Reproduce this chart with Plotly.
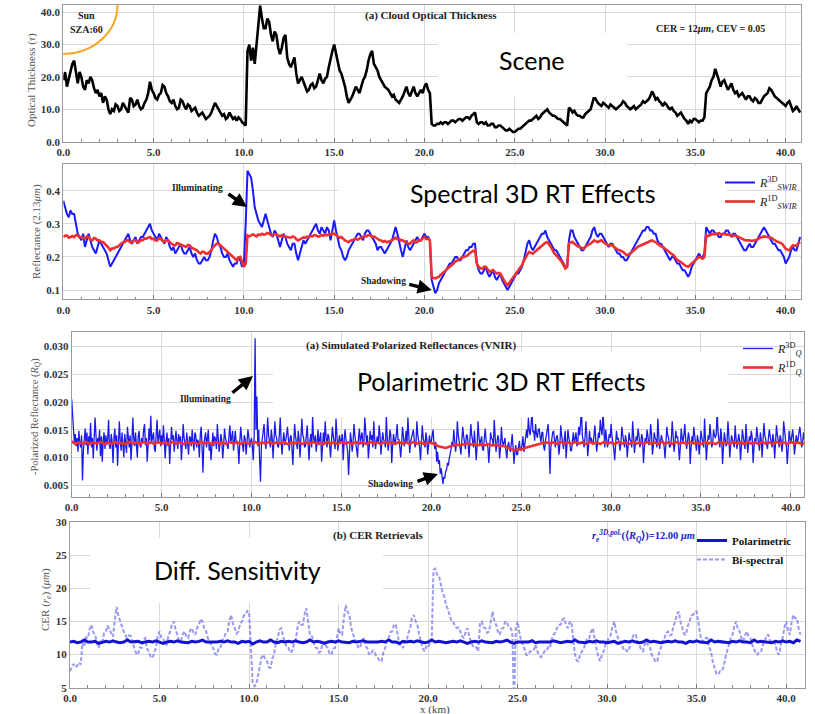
import plotly.graph_objects as go

# ---------------- data ----------------
STEP_KM = 0.1       # sampling of tau / SWIR reflectances / bi-spectral CER (km)
STEP_RQ3D_KM = 0.05 # sampling of the polarized 3D reflectance (km)
STEP_COARSE_KM = 0.2  # sampling of R_Q 1D and the polarimetric CER (km)

x_tick_vals = [0, 5, 10, 15, 20, 25, 30, 35, 40]
x_tick_text = ["0.0", "5.0", "10.0", "15.0", "20.0", "25.0", "30.0", "35.0", "40.0"]
tau_tick_vals = [0, 10, 20, 30, 40]
tau_tick_text = ["0.0", "10.0", "20.0", "30.0", "40.0"]
refl_tick_vals = [0.1, 0.2, 0.3, 0.4]
refl_tick_text = ["0.1", "0.2", "0.3", "0.4"]
rq_tick_vals = [0.005, 0.010, 0.015, 0.020, 0.025, 0.030]
rq_tick_text = ["0.005", "0.010", "0.015", "0.020", "0.025", "0.030"]
cer_tick_vals = [5, 10, 15, 20, 25, 30]
cer_tick_text = ["5", "10", "15", "20", "25", "30"]

# cloud optical thickness, every 0.1 km (one row per km)
tau = [
    19, 21.5, 17, 19.5, 21, 24, 25, 21, 18, 21.5,
    20, 17, 16, 19, 18, 20, 19, 16.5, 15, 16,
    14, 15, 12, 14, 13, 10, 8.5, 10, 9.5, 11.5,
    11, 9.5, 10, 12, 11, 10, 9, 13.5, 13, 11,
    11.5, 13, 11, 10, 10.5, 12, 13, 15, 18.5, 16,
    15, 13.5, 13, 14.5, 15, 17.5, 17, 15, 14, 12.5,
    12, 13, 11, 10, 10.5, 13, 12.5, 11, 10, 11.5,
    11, 9.5, 10, 10.5, 9, 8, 8.5, 9, 8, 7,
    7.5, 8, 9, 10.5, 12, 11, 10, 9, 8, 8.5,
    7, 7.5, 9, 8, 7, 7.5, 6.5, 7.5, 7, 6,
    5.5, 5, 28, 30, 25, 29, 24, 30, 36, 42,
    38, 35, 35, 38, 37, 33, 31, 34, 33, 29,
    27, 29, 32, 33, 26, 24, 23, 24.5, 26, 21,
    18, 19, 20, 18.5, 17, 15.5, 16, 17.5, 18, 16.5,
    17, 19, 21, 19, 18, 19.5, 20, 23, 26, 28,
    30, 27, 24, 22, 21, 19, 17, 14, 12, 13,
    14, 15.5, 17, 16, 15, 17, 19, 20, 22, 25,
    27, 28, 24, 23, 22, 20, 19, 18, 17, 16.5,
    16, 15, 14, 14.5, 13, 12.5, 12, 13, 14, 15.5,
    17, 15, 14, 15.5, 17, 15, 14, 15, 16, 15,
    17, 18, 16, 15, 5.5, 5, 5, 5.5, 5.5, 6,
    5.5, 6, 6, 5.5, 6, 6.5, 6.5, 6, 6.5, 7,
    7, 6.5, 7, 7.5, 7.5, 7, 8, 8.5, 9, 6,
    5.5, 6, 6, 5.5, 6, 5, 5, 5.5, 5.5, 4.5,
    4.5, 5, 5, 4.5, 4, 3.5, 3.5, 4, 3.5, 3,
    3, 3.5, 4, 4, 4.5, 5, 5.5, 6, 6.5, 6.5,
    7, 7.5, 8, 7, 7.5, 8.5, 9, 9.5, 10, 9,
    8.5, 8, 8, 7.5, 7, 7, 6.5, 6, 5.5, 5,
    10.5, 10, 9, 9.5, 8.5, 8, 8, 7.5, 7.5, 8.5,
    9, 9.5, 10, 12, 14, 13, 12, 11.5, 11, 12,
    11.5, 11, 10.5, 11.5, 11, 10.5, 10, 10.5, 11, 11.5,
    12.5, 12, 11, 10.5, 10, 10.5, 11, 10, 10.5, 11,
    11.5, 12.5, 12, 12.5, 13, 14, 15.5, 14.5, 13, 13.5,
    12.5, 12, 11, 12, 11.5, 10.5, 10, 10.5, 9.5, 9,
    8, 8.5, 9, 8, 7, 6.5, 5.5, 6.5, 6, 7,
    7, 6.5, 6, 6.5, 6.5, 7.5, 15, 16, 17, 19,
    20, 22.5, 21, 19, 17, 18.5, 19, 17.5, 16, 17,
    18, 16, 15, 15.5, 14, 14.5, 15, 14, 13, 14,
    14, 13, 12.5, 13.5, 13, 12, 12, 13, 14, 14.5,
    15, 16.5, 16, 15, 14, 13.5, 13, 12.5, 12, 11.5,
    11, 12, 12.5, 11, 9.5, 10, 11, 10, 9,
]

# 2.13 um reflectance (3D), every 0.1 km
r3d_swir = [
    .37, .35, .33, .32, .34, .33, .33, .30, .27, .26,
    .25, .27, .23, .25, .27, .25, .23, .22, .21, .23,
    .25, .24, .23, .22, .21, .19, .17, .18, .19, .20,
    .21, .22, .23, .24, .25, .26, .27, .25, .24, .25,
    .26, .24, .25, .26, .26, .27, .28, .29, .30, .28,
    .27, .26, .25, .27, .26, .25, .24, .26, .25, .23,
    .22, .23, .21, .22, .23, .24, .22, .21, .21, .22,
    .23, .21, .20, .21, .19, .18, .18, .19, .20, .19,
    .19, .20, .22, .25, .27, .26, .24, .23, .21, .20,
    .20, .21, .19, .18, .17, .18, .18, .20, .19, .17,
    .18, .30, .46, .45, .44, .40, .35, .33, .31, .30,
    .29, .31, .33, .31, .29, .27, .26, .28, .27, .25,
    .23, .25, .27, .26, .24, .23, .22, .24, .24, .21,
    .19, .21, .23, .25, .24, .25, .26, .27, .28, .29,
    .30, .28, .27, .29, .28, .27, .29, .28, .25, .28,
    .31, .28, .25, .23, .22, .20, .19, .20, .22, .23,
    .24, .25, .26, .27, .27, .26, .25, .27, .28, .28,
    .27, .26, .25, .24, .22, .23, .23, .22, .21, .22,
    .23, .24, .25, .27, .29, .27, .24, .22, .20, .23,
    .25, .23, .22, .23, .24, .25, .26, .25, .25, .26,
    .27, .26, .26, .25, .13, .11, .09, .10, .12, .13,
    .14, .15, .16, .17, .18, .18, .19, .20, .20, .19,
    .19, .20, .21, .22, .22, .23, .23, .24, .24, .18,
    .16, .15, .15, .16, .17, .15, .14, .15, .16, .14,
    .13, .14, .15, .13, .12, .11, .10, .11, .12, .13,
    .14, .15, .15, .16, .17, .19, .22, .24, .25, .23,
    .22, .23, .24, .25, .26, .27, .27, .28, .26, .25,
    .24, .23, .22, .22, .21, .20, .19, .18, .17, .17,
    .25, .28, .28, .26, .25, .24, .23, .22, .22, .23,
    .24, .25, .26, .28, .29, .27, .26, .27, .27, .26,
    .25, .24, .23, .24, .24, .23, .22, .21, .21, .20,
    .20, .19, .19, .20, .21, .22, .23, .24, .25, .26,
    .27, .28, .28, .29, .29, .28, .28, .27, .27, .25,
    .24, .24, .23, .22, .21, .20, .19, .20, .20, .19,
    .18, .18, .17, .16, .16, .15, .14, .15, .17, .18,
    .19, .20, .21, .20, .20, .21, .29, .28, .27, .28,
    .28, .27, .27, .26, .26, .27, .27, .28, .28, .27,
    .26, .27, .27, .26, .25, .24, .23, .22, .22, .23,
    .24, .23, .23, .24, .25, .26, .27, .28, .29, .28,
    .27, .26, .25, .24, .24, .23, .22, .22, .21, .20,
    .18, .19, .20, .22, .23, .22, .22, .24, .26,
]

# 2.13 um reflectance (1D), every 0.1 km
r1d_swir = [
    .260, .264, .265, .258, .260, .263, .260, .266, .265, .259,
    .260, .256, .255, .262, .260, .252, .250, .257, .255, .250,
    .250, .246, .245, .240, .235, .228, .220, .226, .225, .230,
    .230, .236, .240, .244, .245, .250, .250, .244, .245, .250,
    .250, .244, .245, .252, .250, .256, .255, .258, .260, .254,
    .255, .250, .250, .256, .255, .248, .245, .250, .250, .244,
    .240, .236, .235, .242, .240, .234, .235, .232, .230, .236,
    .235, .228, .225, .222, .220, .214, .210, .216, .215, .210,
    .210, .216, .220, .230, .235, .240, .240, .234, .230, .225,
    .220, .214, .210, .205, .200, .194, .190, .198, .200, .185,
    .170, .180, .265, .262, .265, .268, .265, .262, .268, .266,
    .270, .267, .268, .272, .270, .266, .265, .269, .268, .264,
    .262, .266, .265, .261, .260, .257, .258, .262, .260, .254,
    .250, .253, .255, .259, .258, .261, .260, .263, .262, .266,
    .265, .261, .262, .266, .264, .267, .265, .269, .268, .271,
    .270, .265, .262, .258, .260, .254, .250, .247, .245, .249,
    .250, .253, .255, .252, .255, .258, .260, .263, .262, .266,
    .265, .260, .262, .257, .255, .251, .250, .246, .248, .244,
    .245, .248, .250, .255, .258, .253, .255, .250, .250, .246,
    .245, .240, .240, .246, .250, .244, .245, .250, .250, .256,
    .260, .254, .255, .250, .140, .136, .135, .138, .140, .146,
    .150, .156, .160, .166, .170, .176, .180, .186, .190, .192,
    .195, .199, .200, .203, .205, .211, .215, .218, .220, .180,
    .170, .166, .165, .170, .170, .162, .155, .158, .160, .154,
    .150, .152, .150, .140, .130, .120, .115, .122, .130, .138,
    .145, .152, .160, .168, .175, .188, .200, .208, .215, .212,
    .210, .215, .220, .225, .230, .236, .240, .243, .245, .238,
    .230, .220, .210, .205, .200, .192, .185, .175, .165, .170,
    .240, .244, .245, .240, .235, .232, .230, .228, .225, .230,
    .235, .238, .240, .246, .250, .247, .245, .248, .250, .245,
    .240, .237, .235, .236, .235, .230, .225, .222, .220, .218,
    .215, .210, .205, .207, .210, .215, .220, .226, .230, .233,
    .235, .238, .240, .243, .245, .248, .250, .247, .245, .240,
    .235, .232, .230, .225, .220, .215, .210, .208, .205, .198,
    .190, .188, .185, .180, .175, .172, .170, .175, .180, .185,
    .190, .196, .200, .198, .195, .200, .265, .263, .265, .268,
    .270, .268, .270, .272, .268, .270, .270, .267, .268, .266,
    .265, .263, .265, .262, .260, .257, .255, .252, .250, .251,
    .250, .248, .248, .250, .252, .256, .258, .260, .262, .261,
    .260, .259, .258, .254, .250, .247, .245, .242, .240, .232,
    .225, .222, .220, .228, .235, .233, .235, .240, .245,
]

# polarized reflectance (3D), every 0.05 km (one row per km)
rq_3d = [
    .0205, .0185, .0150, .0128, .0142, .0120, .0135, .0110, .0148, .0125, .0118, .0140, .0058, .0112, .0130, .0152, .0122, .0145, .0105, .0138,
    .0125, .0162, .0118, .0135, .0098, .0128, .0172, .0140, .0112, .0135, .0125, .0150, .0102, .0138, .0092, .0130, .0145, .0115, .0140, .0122,
    .0132, .0168, .0120, .0115, .0142, .0128, .0090, .0135, .0152, .0118, .0140, .0085, .0125, .0165, .0130, .0112, .0145, .0128, .0100, .0142,
    .0125, .0108, .0155, .0130, .0118, .0140, .0095, .0128, .0172, .0135, .0120, .0145, .0110, .0100, .0138, .0148, .0122, .0118, .0135, .0128,
    .0150, .0160, .0122, .0135, .0092, .0140, .0152, .0130, .0175, .0128, .0138, .0145, .0115, .0110, .0142, .0168, .0125, .0138, .0150, .0120,
    .0140, .0125, .0158, .0132, .0098, .0128, .0145, .0120, .0135, .0088, .0118, .0155, .0132, .0140, .0110, .0125, .0148, .0130, .0115, .0142,
    .0128, .0138, .0095, .0122, .0160, .0135, .0122, .0115, .0145, .0130, .0105, .0138, .0135, .0120, .0150, .0128, .0112, .0145, .0140, .0118,
    .0132, .0128, .0100, .0140, .0155, .0120, .0072, .0125, .0138, .0145, .0118, .0130, .0150, .0112, .0125, .0095, .0135, .0145, .0120, .0138,
    .0132, .0115, .0160, .0138, .0110, .0125, .0142, .0130, .0098, .0120, .0152, .0135, .0128, .0118, .0115, .0140, .0158, .0125, .0135, .0148,
    .0112, .0130, .0148, .0125, .0130, .0118, .0088, .0128, .0155, .0135, .0122, .0110, .0140, .0132, .0105, .0125, .0150, .0138, .0118, .0128,
    .0135, .0120, .0095, .0140, .0315, .0150, .0210, .0120, .0150, .0098, .0056, .0120, .0138, .0145, .0160, .0128, .0115, .0135, .0172, .0140,
    .0128, .0118, .0150, .0135, .0098, .0125, .0165, .0140, .0135, .0120, .0118, .0142, .0172, .0128, .0105, .0130, .0145, .0122, .0130, .0140,
    .0155, .0128, .0112, .0135, .0140, .0118, .0086, .0125, .0160, .0138, .0128, .0115, .0148, .0132, .0100, .0125, .0170, .0140, .0135, .0118,
    .0120, .0140, .0158, .0125, .0095, .0130, .0142, .0118, .0175, .0135, .0125, .0140, .0110, .0128, .0150, .0122, .0132, .0145, .0092, .0125,
    .0145, .0128, .0165, .0135, .0118, .0142, .0138, .0120, .0100, .0130, .0155, .0138, .0128, .0115, .0170, .0132, .0112, .0128, .0140, .0125,
    .0130, .0142, .0095, .0128, .0150, .0135, .0122, .0110, .0068, .0120, .0145, .0132, .0110, .0128, .0160, .0140, .0128, .0115, .0100, .0135,
    .0152, .0128, .0135, .0145, .0118, .0125, .0172, .0138, .0125, .0140, .0098, .0120, .0148, .0132, .0140, .0118, .0165, .0135, .0115, .0130,
    .0138, .0125, .0158, .0140, .0105, .0128, .0145, .0132, .0128, .0118, .0175, .0135, .0112, .0128, .0150, .0140, .0090, .0122, .0142, .0130,
    .0125, .0140, .0160, .0132, .0132, .0118, .0100, .0125, .0155, .0138, .0120, .0130, .0148, .0125, .0172, .0140, .0108, .0128, .0138, .0145,
    .0150, .0132, .0118, .0128, .0165, .0140, .0130, .0118, .0095, .0125, .0158, .0135, .0125, .0118, .0145, .0132, .0105, .0128, .0140, .0125,
    .0128, .0140, .0150, .0125, .0115, .0128, .0092, .0110, .0088, .0095, .0070, .0080, .0062, .0052, .0065, .0062, .0075, .0078, .0090, .0085,
    .0098, .0105, .0115, .0128, .0120, .0150, .0132, .0110, .0125, .0165, .0140, .0132, .0118, .0105, .0128, .0155, .0138, .0125, .0115, .0140,
    .0140, .0125, .0100, .0132, .0160, .0140, .0130, .0118, .0148, .0128, .0095, .0122, .0165, .0138, .0122, .0130, .0138, .0115, .0112, .0135,
    .0152, .0130, .0125, .0118, .0090, .0128, .0145, .0135, .0132, .0120, .0168, .0140, .0110, .0125, .0140, .0132, .0098, .0118, .0155, .0130,
    .0120, .0128, .0135, .0112, .0098, .0120, .0128, .0115, .0110, .0125, .0142, .0118, .0088, .0110, .0122, .0105, .0105, .0118, .0130, .0112,
    .0115, .0122, .0138, .0110, .0125, .0140, .0150, .0135, .0172, .0148, .0140, .0158, .0185, .0145, .0148, .0130, .0160, .0142, .0135, .0150,
    .0152, .0138, .0128, .0145, .0145, .0120, .0112, .0130, .0138, .0150, .0160, .0128, .0070, .0118, .0132, .0145, .0148, .0125, .0118, .0135,
    .0140, .0128, .0105, .0122, .0158, .0140, .0125, .0115, .0135, .0148, .0098, .0118, .0150, .0135, .0128, .0112, .0112, .0130, .0145, .0125,
    .0132, .0145, .0120, .0128, .0155, .0140, .0160, .0190, .0140, .0125, .0118, .0135, .0165, .0140, .0102, .0120, .0148, .0130, .0135, .0125,
    .0125, .0140, .0158, .0130, .0110, .0128, .0145, .0135, .0168, .0150, .0140, .0185, .0130, .0118, .0150, .0138, .0118, .0128, .0142, .0135,
    .0160, .0138, .0128, .0115, .0095, .0120, .0148, .0132, .0135, .0125, .0112, .0128, .0155, .0140, .0122, .0118, .0140, .0130, .0100, .0125,
    .0145, .0132, .0130, .0118, .0165, .0140, .0108, .0125, .0138, .0130, .0152, .0140, .0118, .0125, .0142, .0135, .0090, .0115, .0135, .0128,
    .0150, .0138, .0122, .0130, .0160, .0142, .0105, .0120, .0145, .0135, .0132, .0118, .0170, .0140, .0115, .0128, .0140, .0132, .0128, .0120,
    .0098, .0125, .0155, .0140, .0135, .0118, .0120, .0132, .0165, .0140, .0110, .0125, .0148, .0135, .0138, .0120, .0095, .0118, .0152, .0135,
    .0128, .0140, .0160, .0132, .0115, .0128, .0145, .0135, .0088, .0118, .0138, .0125, .0155, .0140, .0122, .0112, .0140, .0130, .0105, .0125,
    .0148, .0135, .0125, .0118, .0170, .0140, .0095, .0120, .0140, .0132, .0160, .0138, .0118, .0125, .0150, .0140, .0135, .0142, .0185, .0145,
    .0130, .0118, .0152, .0135, .0088, .0120, .0145, .0132, .0120, .0128, .0165, .0140, .0100, .0122, .0140, .0132, .0128, .0118, .0158, .0135,
    .0115, .0128, .0142, .0130, .0095, .0120, .0150, .0138, .0128, .0115, .0160, .0140, .0108, .0125, .0138, .0130, .0148, .0135, .0090, .0118,
    .0135, .0125, .0155, .0140, .0120, .0112, .0145, .0132, .0100, .0122, .0162, .0140, .0130, .0125, .0115, .0135, .0150, .0138, .0125, .0118,
    .0142, .0130, .0098, .0120, .0158, .0140, .0128, .0118, .0140, .0132, .0110, .0125, .0165, .0140, .0132, .0120, .0088, .0115, .0148, .0135,
    .0125, .0138, .0150, .0132, .0105, .0122, .0140, .0128, .0132, .0145, .0155, .0138, .0118, .0125, .0145, .0132, .0138,
]

# polarized reflectance (1D), every 0.2 km
rq_1d = [
    .0129, .0124, .0127, .0125, .0128,
    .0124, .0127, .0125, .0128, .0124,
    .0127, .0124, .0128, .0125, .0126,
    .0124, .0128, .0125, .0127, .0124,
    .0128, .0125, .0127, .0124, .0128,
    .0125, .0127, .0124, .0128, .0125,
    .0127, .0124, .0128, .0125, .0127,
    .0124, .0128, .0125, .0127, .0124,
    .0128, .0125, .0127, .0124, .0128,
    .0125, .0127, .0124, .0128, .0125,
    .0126, .0128, .0124, .0127, .0125,
    .0128, .0124, .0127, .0125, .0128,
    .0124, .0127, .0125, .0128, .0124,
    .0127, .0124, .0128, .0125, .0126,
    .0124, .0128, .0125, .0127, .0124,
    .0128, .0125, .0127, .0124, .0128,
    .0125, .0127, .0124, .0128, .0125,
    .0127, .0124, .0128, .0125, .0127,
    .0124, .0128, .0125, .0127, .0124,
    .0128, .0125, .0127, .0124, .0127,
    .0126, .0124, .0120, .0118, .0117,
    .0119, .0121, .0123, .0122, .0124,
    .0125, .0123, .0124, .0122, .0123,
    .0122, .0124, .0121, .0123, .0120,
    .0121, .0118, .0116, .0113, .0115,
    .0114, .0117, .0119, .0121, .0123,
    .0124, .0126, .0127, .0125, .0127,
    .0124, .0128, .0125, .0127, .0124,
    .0128, .0125, .0127, .0124, .0128,
    .0125, .0127, .0124, .0128, .0125,
    .0127, .0124, .0128, .0125, .0127,
    .0124, .0128, .0125, .0127, .0124,
    .0128, .0125, .0127, .0124, .0128,
    .0125, .0127, .0124, .0128, .0125,
    .0127, .0124, .0128, .0125, .0126,
    .0124, .0128, .0125, .0127, .0124,
    .0128, .0125, .0127, .0124, .0128,
    .0125, .0127, .0124, .0128, .0125,
    .0127, .0124, .0128, .0125, .0127,
    .0124, .0128, .0125, .0127, .0124,
    .0128, .0125, .0127, .0124, .0126,
]

# retrieved CER (um): polarimetric every 0.2 km
cer_polarimetric = [
    11.9, 12.0, 11.8, 11.9, 12.2,
    11.9, 11.9, 12.0, 11.7, 11.9,
    12.0, 11.9, 12.1, 11.9, 11.8,
    11.9, 12.2, 11.9, 11.9, 12.0,
    11.8, 11.9, 12.0, 11.9, 12.1,
    11.9, 11.7, 11.9, 12.0, 11.9,
    12.1, 11.9, 11.9, 11.8, 12.0,
    11.9, 12.0, 12.2, 11.9, 11.9,
    11.8, 11.9, 12.0, 11.9, 12.1,
    11.9, 11.9, 11.7, 12.0, 11.9,
    12.0, 11.6, 11.9, 12.1, 11.9,
    11.9, 12.2, 11.9, 11.8, 12.0,
    11.9, 12.0, 11.9, 12.1, 11.9,
    11.8, 11.9, 12.2, 11.9, 12.0,
    11.9, 11.7, 11.9, 12.0, 11.9,
    12.1, 11.9, 11.9, 11.8, 12.0,
    11.9, 12.0, 12.1, 11.9, 11.9,
    11.8, 11.9, 12.0, 11.9, 12.2,
    11.9, 11.9, 11.7, 12.0, 11.9,
    12.0, 11.9, 12.1, 11.9, 11.8,
    11.9, 12.2, 11.9, 12.0, 11.9,
    11.8, 11.9, 12.0, 11.9, 12.1,
    11.9, 11.7, 11.9, 12.0, 11.9,
    12.1, 11.9, 11.9, 11.8, 12.0,
    11.9, 12.0, 12.2, 11.9, 11.7,
    11.9, 11.9, 12.0, 11.9, 12.1,
    11.8, 11.9, 11.9, 12.0, 11.9,
    12.1, 11.9, 11.8, 11.9, 12.0,
    11.9, 12.2, 11.9, 11.9, 11.8,
    12.0, 11.9, 12.1, 11.9, 11.9,
    11.8, 11.9, 12.0, 11.7, 11.9,
    12.0, 11.9, 12.1, 11.9, 11.8,
    11.9, 12.2, 11.9, 12.0, 11.9,
    11.8, 11.9, 12.0, 11.9, 12.1,
    11.9, 11.9, 11.7, 12.0, 11.9,
    12.1, 11.9, 11.9, 11.8, 12.2,
    11.9, 12.0, 11.9, 11.9, 11.8,
    12.0, 11.9, 12.1, 11.9, 11.9,
    11.8, 12.2, 11.9, 12.0, 11.9,
    11.9, 11.8, 12.0, 11.9, 12.1,
    11.9, 12.0, 11.8, 12.2, 12.0,
]
# bi-spectral CER every 0.1 km (one row per km)
cer_bispectral = [
    7.5, 8.2, 8.6, 8.1, 8.3, 8.8, 8.5, 11.8, 11.2, 12.6,
    12.5, 13.9, 14.5, 13.3, 13.1, 11.8, 11, 12.1, 11.7, 13.2,
    13.5, 14.4, 13.8, 13.4, 12.7, 15.1, 17.2, 15.9, 15, 14.2,
    13.5, 13.1, 12, 12.9, 12.8, 11.7, 11, 10.2, 10, 11.1,
    11, 12.3, 12.5, 10.9, 10.5, 9.7, 9.5, 10.4, 11, 12.8,
    13.5, 12.6, 12.5, 11.6, 11.5, 12.9, 13.5, 14.6, 15, 13.8,
    13, 12.1, 12, 13.1, 13.5, 12.7, 12.5, 13.6, 14, 13.3,
    13, 14.1, 14.5, 15.4, 15, 13.9, 13.5, 12.5, 12, 11.3,
    11, 10.1, 10, 10.9, 11, 12.2, 12.5, 13.3, 13.5, 15.1,
    16, 14.7, 14, 13.2, 13.5, 14.6, 15, 15.9, 16, 16.6,
    16.5, 12, 5.8, 5.2, 5.5, 6.8, 8, 9.6, 10, 9.3,
    9, 8.1, 8, 9.4, 10, 11.9, 12.5, 13.8, 14, 12.7,
    12, 11.1, 11, 10.3, 10.5, 11.6, 12, 14, 15, 14.5,
    14.5, 16.1, 17, 14.5, 13, 12.9, 12, 11.1, 11, 10.3,
    10.5, 11.6, 12, 11.3, 11, 10.1, 10, 10.9, 11, 12.9,
    14, 13.1, 13, 15.6, 17.5, 16.5, 16, 14.1, 13, 12.3,
    12, 11.1, 11, 12.1, 12.5, 11.3, 11, 10.1, 10, 10.6,
    10.5, 9.7, 9.5, 9.0, 9, 10.3, 11, 12.1, 12.5, 13.4,
    13.5, 14.6, 14.5, 12.7, 11.5, 11.5, 11, 11.9, 12, 13.3,
    14, 15.5, 16, 15.1, 14.5, 13, 12, 10.9, 10.5, 11.2,
    11, 11.8, 12, 22.8, 23, 22.1, 22, 20.7, 19.5, 18.8,
    17.5, 16.9, 16, 15.1, 15, 14.3, 14, 14.1, 13.5, 12.8,
    12.5, 13.5, 14, 12.7, 12, 11.3, 11, 11.1, 10.5, 14.8,
    15, 14.1, 14, 13.3, 13.5, 15.3, 16.5, 15.1, 14.5, 13.5,
    13, 13.9, 14, 14.9, 15, 14.1, 14, 13.5, 3, 14.1,
    15, 13.3, 12, 11.5, 10.5, 9.9, 10, 10.5, 10.5, 10.7,
    11.5, 10.5, 10, 9.6, 10, 10.5, 10.5, 11.1, 11, 12.3,
    13, 13.3, 14, 14.5, 14.5, 15.3, 15.5, 14.5, 14, 14.9,
    15, 12.1, 10, 9.1, 9, 10.1, 10.5, 10.9, 12, 12.5,
    12.5, 13.5, 14, 12.3, 11, 9.7, 9, 9.9, 10.5, 11.5,
    12, 12.7, 13, 14.3, 15, 13.5, 12.5, 12.3, 11.5, 10.9,
    11, 10.5, 10.5, 11.8, 12.5, 13.1, 13, 11.9, 11.5, 10.7,
    10.5, 11.5, 12, 11.3, 11, 9.9, 9.5, 8.9, 9, 10.3,
    11, 12.1, 12.5, 13.3, 13.5, 12.9, 13, 14.3, 15, 16.1,
    16.5, 14.9, 14, 13.1, 13, 14.3, 15, 15.9, 16, 16.5,
    16.5, 14.5, 13, 12.1, 12, 12.5, 12.5, 11.1, 10.5, 8.9,
    8, 7.1, 7, 7.5, 7.5, 8.1, 9.5, 10.7, 11.5, 12.5,
    13, 14.3, 15, 13.9, 13.5, 12.5, 12, 12.9, 13.5, 12.7,
    12.5, 11.5, 11, 10.1, 10, 10.5, 10.5, 11.5, 12, 12.9,
    13, 12.1, 12, 12.1, 11.5, 10.3, 10, 11.5, 12.5, 14.1,
    15, 13.7, 13, 14.9, 16, 15.5, 15.5, 13.9, 13,
]

# ---------------- figure ----------------
W, H = 815, 714


def px(xp):
    return xp / W


def py(yp):
    return 1 - yp / H


SERIF = "Liberation Serif"
tickfont = dict(family=SERIF, size=11, color="#333", weight="bold")
GRID = "#d9d9d9"
FRAME = "#9a9a9a"

fig = go.Figure()

fig.add_trace(go.Scatter(y=tau, x0=0, dx=STEP_KM, mode="lines",
                         line=dict(color="black", width=2.6), showlegend=False,
                         xaxis="x", yaxis="y"))

fig.add_trace(go.Scatter(y=r3d_swir, x0=0, dx=STEP_KM, mode="lines",
                         line=dict(color="#1a1aff", width=2),
                         name="<i>R</i><sup>3D</sup><sub><i>SWIR</i></sub>",
                         legend="legend", xaxis="x2", yaxis="y2"))
fig.add_trace(go.Scatter(y=r1d_swir, x0=0, dx=STEP_KM, mode="lines",
                         line=dict(color="#ee3030", width=2.6),
                         name="<i>R</i><sup>1D</sup><sub><i>SWIR</i></sub>",
                         legend="legend", xaxis="x2", yaxis="y2"))

fig.add_trace(go.Scatter(y=rq_3d, x0=0, dx=STEP_RQ3D_KM, mode="lines",
                         line=dict(color="#1c1ce6", width=1.3),
                         name="<i>R</i><sup>3D</sup><sub><i>Q</i></sub>",
                         legend="legend2", xaxis="x3", yaxis="y3"))
fig.add_trace(go.Scatter(y=rq_1d, x0=0, dx=STEP_COARSE_KM, mode="lines",
                         line=dict(color="#ee3030", width=2.6),
                         name="<i>R</i><sup>1D</sup><sub><i>Q</i></sub>",
                         legend="legend2", xaxis="x3", yaxis="y3"))

fig.add_trace(go.Scatter(y=cer_bispectral, x0=0, dx=STEP_KM, mode="lines",
                         line=dict(color="rgba(120,120,235,0.75)", width=2, dash="4px,2px"),
                         name="<b>Bi-spectral</b>", legend="legend3",
                         legendrank=2, xaxis="x4", yaxis="y4"))
fig.add_trace(go.Scatter(y=cer_polarimetric, x0=0, dx=STEP_COARSE_KM, mode="lines",
                         line=dict(color="#1212d0", width=3),
                         name="<b>Polarimetric</b>", legend="legend3",
                         legendrank=1, xaxis="x4", yaxis="y4"))


def xax(dom, rng, anchor):
    return dict(domain=dom, range=rng, anchor=anchor, tickvals=x_tick_vals,
                ticktext=x_tick_text, tickfont=tickfont, showgrid=True,
                gridcolor=GRID, gridwidth=1, zeroline=False, showline=True,
                mirror=True, linecolor=FRAME, linewidth=1, ticks="inside",
                ticklen=4, tickcolor="#777", automargin=False,
                minor=dict(dtick=1, ticks="inside", ticklen=2.5, tickcolor="#888",
                           showgrid=False))


def yax(dom, rng, anchor, tv, tt):
    return dict(domain=dom, range=rng, anchor=anchor, tickvals=tv, ticktext=tt,
                tickfont=tickfont, showgrid=True, gridcolor=GRID, gridwidth=1,
                zeroline=False, showline=True, mirror=True, linecolor=FRAME,
                linewidth=1, ticks="", automargin=False)


x12 = [px(63.3), px(801)]
fig.update_layout(
    width=W, height=H, autosize=False,
    margin=dict(l=0, r=0, t=0, b=0, pad=0, autoexpand=False),
    paper_bgcolor="white", plot_bgcolor="white",
    xaxis=xax(x12, [0, 40.85], "y"),
    yaxis=yax([py(141.7), py(5)], [0, 42.2], "x", tau_tick_vals, tau_tick_text),
    xaxis2=xax(x12, [0, 40.85], "y2"),
    yaxis2=yax([py(299.3), py(164)], [0.0719, 0.4807], "x2", refl_tick_vals, refl_tick_text),
    xaxis3=xax([px(71.7), px(804)], [0, 40.73], "y3"),
    yaxis3=yax([py(496.7), py(331.7)], [0.00289, 0.0327], "x3", rq_tick_vals, rq_tick_text),
    xaxis4=xax([px(70), px(805)], [0, 41.05], "y4"),
    yaxis4=yax([py(687.7), py(522.3)], [5, 30], "x4", cer_tick_vals, cer_tick_text),
    legend=dict(x=px(720), y=py(168), xanchor="left", yanchor="top",
                bgcolor="rgba(0,0,0,0)", font=dict(family=SERIF, size=12, color="#222"),
                itemwidth=30, tracegroupgap=0),
    legend2=dict(x=px(738), y=py(334), xanchor="left", yanchor="top",
                 bgcolor="rgba(0,0,0,0)", font=dict(family=SERIF, size=12, color="#222"),
                 itemwidth=30, tracegroupgap=0),
    legend3=dict(x=px(692), y=py(526), xanchor="left", yanchor="top",
                 bgcolor="rgba(0,0,0,0)", font=dict(family=SERIF, size=11, color="#111"),
                 itemwidth=30, tracegroupgap=0),
)

shapes = []
# sun arc
shapes.append(dict(type="circle", xref="x", yref="y", x0=-3.0, x1=3.0,
                   y0=42.2 - 15.1, y1=42.2 + 15.1, line=dict(color="#f5a623", width=2)))
# white overlay boxes
for (x0, x1, y0, y1) in [(438, 627, 33, 97), (338, 727, 166, 221),
                         (273, 728, 352, 417), (90, 383, 538, 603)]:
    shapes.append(dict(type="rect", xref="paper", yref="paper", x0=px(x0), x1=px(x1),
                       y0=py(y1), y1=py(y0), fillcolor="white", line=dict(width=0),
                       layer="above"))
fig.update_layout(shapes=shapes)

ann = []


def txt(x, y, s, size=11, bold=True, color="#222", family=SERIF, angle=0, xanchor="center"):
    ann.append(dict(x=px(x), y=py(y), xref="paper", yref="paper", text=s,
                    showarrow=False, textangle=angle, xanchor=xanchor, yanchor="middle",
                    font=dict(family=family, size=size, color=color,
                              weight="bold" if bold else "normal")))


# panel titles / labels
txt(431, 15, "(a) Cloud Optical Thickness", 11)
txt(710, 29, "CER = 12<i>μm</i>, CEV = 0.05", 10)
txt(86, 15, "Sun", 10)
txt(86, 30, "SZA:60", 10)
txt(411, 345, "(a) Simulated Polarized Reflectances (VNIR)", 11)
txt(378, 535, "(b) CER Retrievals", 11)
txt(697, 536, "<i>r</i><sub><i>e</i></sub><sup><i>3D,pol.</i></sup>(⟨<i>R</i><sub><i>Q</i></sub>⟩)=12.00 <i>μm</i>",
    10.5, color="#2020d0", xanchor="right")
txt(435, 709, "x (km)", 11, bold=False, color="#444")

# y-axis titles
txt(31, 80, "Optical Thickness (<i>τ</i>)", 11, bold=False, color="#555", angle=-90)
txt(37, 232, "Reflectance (2.13<i>μm</i>)", 11, bold=False, color="#555", angle=-90)
txt(35, 417, "-Polarized Reflectance (<i>R</i><sub><i>Q</i></sub>)", 10.5, bold=False,
    color="#555", angle=-90)
txt(46, 600, "CER (<i>r</i><sub><i>e</i></sub>) (<i>μm</i>)", 11, bold=False, color="#555", angle=-90)

# arrow labels
txt(197, 188, "Illuminating", 9.5)
txt(383, 281, "Shadowing", 9.5)
txt(205, 399, "Illuminating", 9.5)
txt(390, 484, "Shadowing", 9.5)


def arrow(xd, yd, xr, yr, ax, ay):
    ann.append(dict(x=xd, y=yd, xref=xr, yref=yr, text="", showarrow=True,
                    ax=ax, ay=ay, arrowhead=2, arrowsize=0.8, arrowwidth=3.5,
                    arrowcolor="black"))


arrow(10.17, 0.351, "x2", "y2", -20, -14)
arrow(20.4, 0.100, "x2", "y2", -24, -6)
arrow(10.08, 0.0247, "x3", "y3", -22, 18)
arrow(20.37, 0.0070, "x3", "y3", -22, 8)

# overlay slide texts
OV = "Lato"
txt(532, 60, "Scene", 25, bold=False, color="black", family=OV)
txt(533, 193, "Spectral 3D RT Effects", 25, bold=False, color="black", family=OV)
txt(501, 381, "Polarimetric 3D RT Effects", 25, bold=False, color="black", family=OV)
txt(237, 570, "Diff. Sensitivity", 25, bold=False, color="black", family=OV)

fig.update_layout(annotations=ann)

fig.write_html("out.html", config={"displayModeBar": False},
               post_script="document.body.style.margin='0px';")
